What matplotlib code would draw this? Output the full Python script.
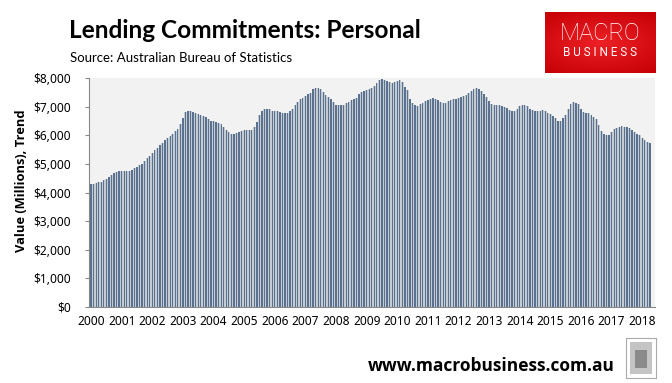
import matplotlib
matplotlib.use("Agg")
import matplotlib.pyplot as plt
from matplotlib.patches import Rectangle
import numpy as np

# Monthly personal lending commitments, trend ($ millions), Jan 2000 - Apr 2018
v2000 = [4290, 4300, 4320, 4350, 4380, 4420, 4470, 4530, 4600, 4680, 4730, 4750]
v2001 = [4760, 4750, 4750, 4760, 4780, 4840, 4900, 4960, 5010, 5100, 5200, 5290]
v2002 = [5390, 5470, 5554, 5650, 5740, 5820, 5903, 5980, 6054, 6140, 6229, 6400]
v2003 = [6600, 6800, 6850, 6840, 6810, 6770, 6730, 6700, 6680, 6640, 6580, 6510]
v2004 = [6490, 6470, 6430, 6380, 6300, 6200, 6110, 6050, 6040, 6080, 6120, 6160]
v2005 = [6170, 6170, 6170, 6200, 6300, 6480, 6690, 6830, 6900, 6910, 6900, 6860]
v2006 = [6850, 6830, 6800, 6790, 6770, 6780, 6830, 6900, 7040, 7150, 7250, 7310]
v2007 = [7370, 7430, 7490, 7600, 7650, 7640, 7600, 7520, 7420, 7330, 7260, 7160]
v2008 = [7070, 7040, 7040, 7060, 7120, 7170, 7220, 7270, 7310, 7450, 7500, 7540]
v2009 = [7580, 7610, 7650, 7730, 7820, 7920, 7950, 7940, 7880, 7850, 7835, 7860]
v2010 = [7890, 7920, 7860, 7700, 7570, 7280, 7120, 7070, 7020, 7090, 7140, 7190]
v2011 = [7240, 7280, 7300, 7280, 7220, 7160, 7140, 7140, 7180, 7220, 7260, 7280]
v2012 = [7300, 7330, 7370, 7420, 7480, 7540, 7610, 7650, 7620, 7544, 7450, 7330]
v2013 = [7200, 7100, 7070, 7060, 7045, 7030, 6990, 6940, 6880, 6846, 6860, 6900]
v2014 = [7010, 7040, 7040, 7010, 6930, 6880, 6846, 6846, 6850, 6870, 6840, 6790]
v2015 = [6750, 6680, 6600, 6500, 6510, 6600, 6700, 6930, 7100, 7160, 7130, 7080]
v2016 = [6930, 6800, 6790, 6788, 6720, 6640, 6560, 6370, 6150, 6040, 6010, 5997]
v2017 = [6100, 6230, 6270, 6290, 6322, 6300, 6280, 6250, 6194, 6130, 6060, 5997]
v2018 = [5920, 5840, 5760, 5729]

values = (v2000 + v2001 + v2002 + v2003 + v2004 + v2005 + v2006 + v2007 + v2008
          + v2009 + v2010 + v2011 + v2012 + v2013 + v2014 + v2015 + v2016 + v2017 + v2018)
years = [str(y) for y in range(2000, 2019)]
yticks = [0, 1000, 2000, 3000, 4000, 5000, 6000, 7000, 8000]

W, H = 672, 383
fig = plt.figure(figsize=(W / 100, H / 100), dpi=100)
fig.patch.set_facecolor("white")

L, R, T, B = 89, 655, 78, 307
ax = fig.add_axes([L / W, (H - B) / H, (R - L) / W, (B - T) / H])
ax.set_facecolor("#f2f2f2")

x = np.arange(len(values))
ax.bar(x, values, width=1.0, color="#c5cbd3", linewidth=0)
ax.bar(x, values, width=0.5, color="#5b7190", linewidth=0)

ax.set_xlim(-0.8, 221.0)
ax.set_ylim(0, 8000)
ax.set_yticks(yticks)
ax.set_yticklabels(["${:,}".format(v) for v in yticks])
ax.set_xticks(np.arange(len(years)) * 12)
ax.set_xticklabels(years)

for lab in ax.get_yticklabels() + ax.get_xticklabels():
    lab.set_fontfamily(["Noto Sans", "DejaVu Sans"])
    lab.set_fontsize(8.6)

ax.tick_params(axis="x", length=0, pad=6)
ax.tick_params(axis="y", length=3, color="#888888", pad=10)
for side in ["top", "right"]:
    ax.spines[side].set_visible(False)
ax.spines["left"].set_color("#888888")
ax.spines["bottom"].set_color("#888888")
ax.spines["left"].set_linewidth(0.8)
ax.spines["bottom"].set_linewidth(0.8)

fig.text(22 / W, 1 - 181 / H, "Value (Millions), Trend", rotation=90,
         ha="center", va="center", fontsize=9.3, fontweight="bold",
         family=["Open Sans", "DejaVu Sans"])

# Title and source
fig.text(69 / W, 1 - 30 / H, "Lending Commitments: Personal", ha="left", va="center",
         fontsize=17.6, fontweight="bold", family=["Lato", "DejaVu Sans"])
fig.text(70 / W, 1 - 58 / H, "Source: Australian Bureau of Statistics", ha="left",
         va="center", fontsize=9.5, family=["Lato", "DejaVu Sans"])

# Logo
logo = fig.add_axes([545 / W, 1 - 73 / H, 111 / W, 61 / H])
gx, gy = np.meshgrid(np.linspace(-1, 1, 100), np.linspace(-1, 1, 50))
rr = np.sqrt(gx ** 2 * 0.7 + gy ** 2)
img = np.zeros((50, 100, 3))
img[..., 0] = 0.93 - 0.12 * rr
img[..., 1] = 0.13 - 0.1 * rr
img[..., 2] = 0.15 - 0.1 * rr
logo.imshow(np.clip(img, 0, 1), aspect="auto", extent=[0, 1, 0, 1])
logo.set_xlim(0, 1)
logo.set_ylim(0, 1)
logo.axis("off")
logo.text(0.5, 0.64, "MACRO", color="white", ha="center", va="center",
          fontsize=17, family=["Roboto", "DejaVu Sans"], fontweight="light")
logo.text(0.5, 0.33, "B U S I N E S S", color="white", ha="center", va="center",
          fontsize=8.5, family=["Roboto", "DejaVu Sans"])

# Footer
fig.text(491 / W, 1 - 366 / H, "www.macrobusiness.com.au", ha="center", va="center",
         fontsize=12.5, fontweight="bold", family=["Open Sans", "DejaVu Sans"])
icon = fig.add_axes([626 / W, 1 - 378 / H, 30 / W, 40 / H])
icon.set_xlim(0, 1)
icon.set_ylim(0, 1)
icon.add_patch(Rectangle((0.12, 0.1), 0.76, 0.8, facecolor="#c4c4c4", edgecolor="none"))
icon.add_patch(Rectangle((0.3, 0.25), 0.4, 0.45, facecolor="#8a8a8a", edgecolor="none"))
icon.set_xticks([])
icon.set_yticks([])
for s in icon.spines.values():
    s.set_color("#aaaaaa")
    s.set_linewidth(0.8)

fig.savefig("out.png", dpi=100)
